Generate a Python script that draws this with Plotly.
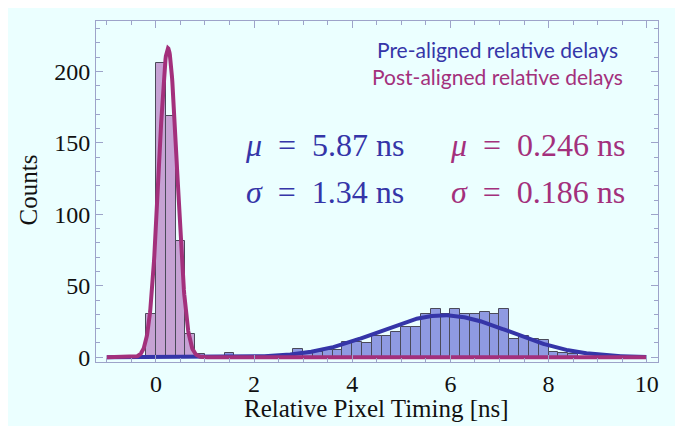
import numpy as np
import plotly.graph_objects as go

# ---- data ----
bin_width = 0.2
post_left_edges = [-0.2, 0.0, 0.2, 0.4, 0.6, 0.8]
post_counts = [30, 206, 169, 81, 16, 2]

pre_left_edges = [1.4, 2.8, 3.0, 3.2, 3.4, 3.6, 3.8, 4.0, 4.2, 4.4, 4.6, 4.8, 5.0, 5.2,
                  5.4, 5.6, 5.8, 6.0, 6.2, 6.4, 6.6, 6.8, 7.0, 7.2, 7.4, 7.6, 7.8,
                  8.0, 8.2, 8.4]
pre_counts = [3, 6, 3, 4, 5, 5, 11, 11, 10, 15, 15, 18, 21, 21,
              30, 34, 30, 34, 30, 30, 32, 30, 34, 13, 15, 13, 12,
              4, 3, 2]

pre_mu, pre_sigma = 5.87, 1.34
post_mu, post_sigma = 0.246, 0.186

x_ticks = [0, 2, 4, 6, 8, 10]
y_ticks = [0, 50, 100, 150, 200]

BLUE = "#3535a8"
PINK = "#a3307c"
BG = "#ebffff"
FRAME = "#9da3c9"
INK = "#111111"


def gauss(x, mu, sigma, n):
    return n * bin_width / (sigma * np.sqrt(2 * np.pi)) * np.exp(-0.5 * ((x - mu) / sigma) ** 2)


xs = np.linspace(-1, 10, 1500)

fig = go.Figure()
fig.add_trace(go.Bar(
    x=[e + bin_width / 2 for e in pre_left_edges], y=pre_counts, width=bin_width,
    marker=dict(color="#8f9ae2", line=dict(color="#4a4a5a", width=1)), showlegend=False))
fig.add_trace(go.Bar(
    x=[e + bin_width / 2 for e in post_left_edges], y=post_counts, width=bin_width,
    marker=dict(color="#c6a2d4", line=dict(color="#4a4a5a", width=1)), showlegend=False))
fig.add_trace(go.Scatter(x=xs, y=gauss(xs, pre_mu, pre_sigma, sum(pre_counts)), mode="lines",
                         line=dict(color=BLUE, width=4), showlegend=False))
fig.add_trace(go.Scatter(x=xs, y=gauss(xs, post_mu, post_sigma, sum(post_counts)), mode="lines",
                         line=dict(color=PINK, width=4), showlegend=False))

axis_common = dict(
    showline=True, linecolor=FRAME, linewidth=1, mirror="allticks",
    ticks="inside", tickcolor=FRAME, ticklen=7, tickwidth=1,
    showgrid=False, zeroline=False, automargin=False,
    tickfont=dict(family="Liberation Serif", size=24, color=INK),
)

fig.update_xaxes(range=[-1.22, 10.23], tickvals=x_ticks, **axis_common,
                 minor=dict(dtick=0.5, tick0=0, ticks="inside", ticklen=4, tickcolor=FRAME, showgrid=False))
fig.update_yaxes(range=[-3.3, 235.2], tickvals=y_ticks, **axis_common,
                 minor=dict(dtick=10, tick0=0, ticks="inside", ticklen=4, tickcolor=FRAME, showgrid=False))

serif = "Liberation Serif"
# axis titles
fig.add_annotation(x=0.499, y=-0.135, xref="paper", yref="paper", showarrow=False,
                   xanchor="center", yanchor="middle", text="Relative Pixel Timing [ns]",
                   font=dict(family=serif, size=25, color=INK))
fig.add_annotation(x=-0.1205, y=0.504, xref="paper", yref="paper", showarrow=False,
                   xanchor="center", yanchor="middle", text="Counts", textangle=-90,
                   font=dict(family=serif, size=25, color=INK))

sans = "Lato"
fig.add_annotation(x=0.714, y=0.915, xref="paper", yref="paper", showarrow=False,
                   xanchor="center", yanchor="middle", text="Pre-aligned relative delays",
                   font=dict(family=sans, size=21, color=BLUE))
fig.add_annotation(x=0.714, y=0.836, xref="paper", yref="paper", showarrow=False,
                   xanchor="center", yanchor="middle", text="Post-aligned relative delays",
                   font=dict(family=sans, size=21, color=PINK))

sp = "&nbsp; "
for xc, col, mu, sg, fmt in [(0.408, BLUE, pre_mu, pre_sigma, "{:.2f}"),
                             (0.786, PINK, post_mu, post_sigma, "{:.3f}")]:
    fig.add_annotation(x=xc, y=0.636, xref="paper", yref="paper", showarrow=False,
                       xanchor="center", yanchor="middle",
                       text=f"<i>μ</i>{sp}={sp}{fmt.format(mu)}&nbsp;ns",
                       font=dict(family=serif, size=32, color=col))
    fig.add_annotation(x=xc, y=0.4985, xref="paper", yref="paper", showarrow=False,
                       xanchor="center", yanchor="middle",
                       text=f"<i>σ</i>{sp}={sp}{fmt.format(sg)}&nbsp;ns",
                       font=dict(family=serif, size=32, color=col))

fig.update_layout(
    width=667, height=418,
    margin=dict(l=88, r=17, t=13, b=64),
    paper_bgcolor=BG, plot_bgcolor=BG,
    barmode="overlay", bargap=0,
    showlegend=False,
)

fig.write_html("out.html")
